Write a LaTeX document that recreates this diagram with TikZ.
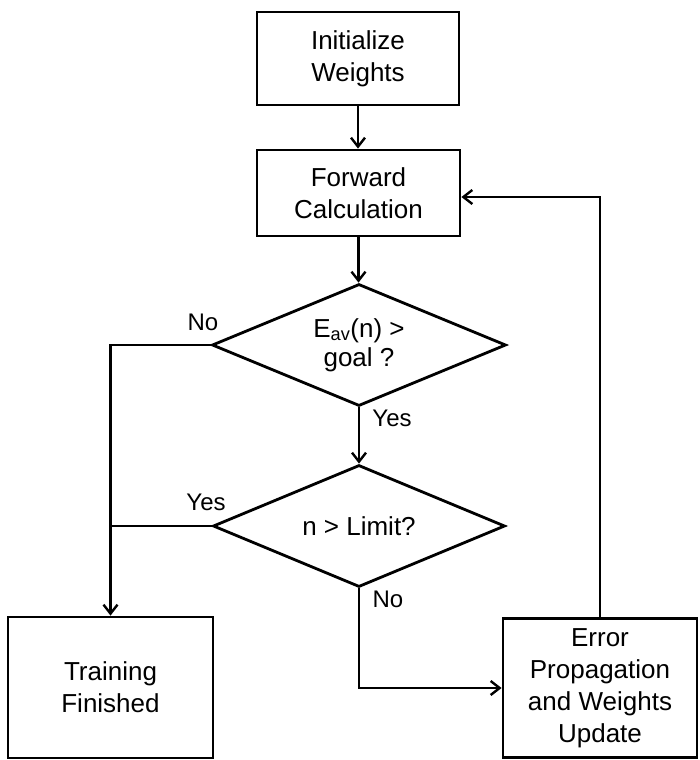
\documentclass[tikz,border=0pt]{standalone}
\usepackage{fontspec}
\setmainfont{Liberation Sans}
\usetikzlibrary{shapes.geometric,arrows.meta,calc}
\begin{document}
\begin{tikzpicture}[x=1pt,y=-1pt,
  every node/.style={font=\fontsize{26}{32}\selectfont},
  box/.style={draw,line width=2.8pt,align=center,inner sep=0pt},
  decision/.style={draw,diamond,shape aspect=2.4,line width=2.8pt,align=center,inner sep=0pt,
    minimum width=294pt,minimum height=122pt},
  flow/.style={line width=2.8pt,-{Straight Barb[length=9pt,width=14pt,line width=2.4pt]}},
  link/.style={line width=2.8pt},
  lbl/.style={font=\fontsize{24}{28}\selectfont,inner sep=0pt}]
\useasboundingbox (0,0) rectangle (699,760);

% process boxes and decisions
\node[box,minimum width=202pt,minimum height=93pt] (init) at (358,58.5) {Initialize\\Weights};
\node[box,minimum width=203pt,minimum height=86pt] (fwd) at (358.5,193) {Forward\\Calculation};
\node[decision,font=\fontsize{26}{29}\selectfont] (d1) at (359,345) {E\textsubscript{av}(n) >\\goal ?};
\node[decision,minimum width=292pt] (d2) at (359,526) {n > Limit?};
\node[box,minimum width=205pt,minimum height=141pt] (train) at (110.5,687.5) {Training\\Finished};
\node[box,minimum width=194pt,minimum height=139pt] (err) at (600,688)
  {Error\\Propagation\\and Weights\\Update};

% connectors
\draw[flow] (init.south) -- (init.south |- fwd.north);
\draw[flow] (fwd.south) -- (fwd.south |- d1.north);
\draw[flow] (d1.south) -- (d2.north);
\draw[flow] (d1.west) -| (train.north);
\draw[link] (d2.west) -- (d2.west -| train.north);
\draw[flow] (d2.south) |- (err.west);
\coordinate (ret) at ($(fwd.east)+(0,4)$);
\draw[flow] (err.north) |- (ret);

% branch labels
\node[lbl] (no1) at (203,322) {No};
\node[lbl] (yes1) at (392,418) {Yes};
\node[lbl] (yes2) at (206,502) {Yes};
\node[lbl] (no2) at (388,599) {No};
\end{tikzpicture}
\end{document}
